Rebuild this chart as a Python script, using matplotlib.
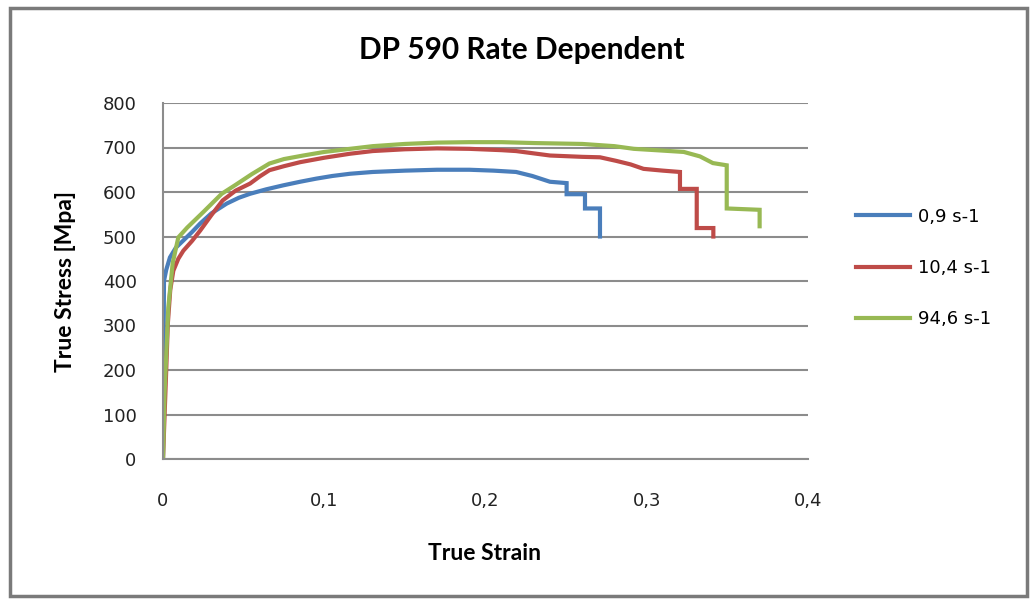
import matplotlib
matplotlib.use('Agg')
import matplotlib.pyplot as plt
from matplotlib.patches import Rectangle

# values (true strain, true stress in MPa)
strain_09 = [0, 0.0003, 0.0006, 0.002, 0.0043, 0.008, 0.0126, 0.018, 0.023, 0.03,
             0.0395, 0.047, 0.054, 0.064, 0.0746, 0.085, 0.095, 0.105, 0.116, 0.13,
             0.15, 0.17, 0.19, 0.205, 0.219, 0.229, 0.240, 0.2503, 0.2503, 0.2617,
             0.2617, 0.271, 0.271]
stress_09 = [0, 200, 400, 425, 453, 475, 491, 510, 529, 552,
             574, 587, 596, 606, 615, 623, 630, 636, 641, 645,
             648, 650, 650, 648, 645, 636, 623, 620, 595, 595,
             563, 563, 500]

strain_104 = [0, 0.001, 0.002, 0.003, 0.0045, 0.0064, 0.0095, 0.0126, 0.018, 0.023,
              0.03, 0.037, 0.045, 0.054, 0.060, 0.066, 0.075, 0.085, 0.10, 0.116,
              0.13, 0.15, 0.17, 0.19, 0.21, 0.219, 0.240, 0.26, 0.271, 0.281,
              0.29, 0.298, 0.31, 0.3206, 0.3206, 0.331, 0.331, 0.3413, 0.3413]
stress_104 = [0, 100, 200, 304, 380, 423, 450, 468, 490, 513,
              548, 581, 603, 619, 635, 649, 658, 667, 677, 686,
              692, 696, 698, 697, 694, 692, 682, 679, 678, 670,
              662, 652, 648, 645, 607, 607, 519, 519, 500]

strain_946 = [0, 0.001, 0.0033, 0.006, 0.0095, 0.015, 0.025, 0.0364, 0.045, 0.055,
              0.066, 0.075, 0.087, 0.1, 0.116, 0.13, 0.15, 0.17, 0.19, 0.21,
              0.23, 0.26, 0.28, 0.292, 0.31, 0.323, 0.333, 0.341, 0.3496, 0.3496,
              0.370, 0.370]
stress_946 = [0, 150, 341, 440, 498, 520, 555, 596, 616, 640,
              664, 674, 682, 690, 697, 703, 708, 711, 712, 712,
              710, 708, 703, 697, 693, 690, 680, 665, 660, 563,
              560, 523]

labels = ['0,9 s-1', '10,4 s-1', '94,6 s-1']
colors = ['#4A7EBB', '#BE4B48', '#98B954']
x_ticks = [0, 0.1, 0.2, 0.3, 0.4]
x_tick_labels = ['0', '0,1', '0,2', '0,3', '0,4']
y_ticks = [0, 100, 200, 300, 400, 500, 600, 700, 800]

W, H = 1031, 599
fig = plt.figure(figsize=(W / 100, H / 100), dpi=100)
ax = fig.add_axes([163 / W, 1 - 459 / H, (808 - 163) / W, (459 - 103) / H])

series = [(strain_09, stress_09), (strain_104, stress_104), (strain_946, stress_946)]
for (x, y), lab, c in zip(series, labels, colors):
    ax.plot(x, y, color=c, lw=3, label=lab, solid_joinstyle='miter')

ax.set_xlim(0, 0.4)
ax.set_ylim(0, 800)
ax.set_xticks(x_ticks)
ax.set_xticklabels(x_tick_labels)
ax.set_yticks(y_ticks)
ax.tick_params(axis='both', length=0, labelsize=13, labelcolor='#222222')
ax.tick_params(axis='y', pad=19)
ax.tick_params(axis='x', pad=24)
for t in ax.get_xticklabels() + ax.get_yticklabels():
    t.set_fontfamily('DejaVu Sans')

ax.grid(axis='y', color='#8c8c8c', lw=1.5)
ax.set_axisbelow(True)
for s in ['top', 'right']:
    ax.spines[s].set_visible(False)
for s in ['left', 'bottom']:
    ax.spines[s].set_color('#8c8c8c')
    ax.spines[s].set_linewidth(1.5)

fig.text(522 / W, 1 - 50 / H, 'DP 590 Rate Dependent', ha='center', va='center',
         fontsize=21.5, fontweight='bold', family='Lato')
fig.text(485 / W, 1 - 553 / H, 'True Strain', ha='center', va='center',
         fontsize=16.5, fontweight='bold', family='Lato')
fig.text(66 / W, 1 - 281 / H, 'True Stress [Mpa]', ha='center', va='center',
         rotation=90, fontsize=16.5, fontweight='bold', family='Lato')

leg = ax.legend(loc='center left', bbox_to_anchor=(840 / W, 1 - 268 / H),
                bbox_transform=fig.transFigure, frameon=False,
                prop={'family': 'DejaVu Sans', 'size': 13},
                handlelength=3.0, handletextpad=0.4, labelspacing=1.85)
for line in leg.get_lines():
    line.set_linewidth(3)

fig.add_artist(Rectangle((10 / W, 1 - 596 / H), 1017 / W, 588 / H,
                         transform=fig.transFigure, fill=False,
                         edgecolor='#7a7a7a', lw=2.5))

fig.savefig('out.png', dpi=100)
